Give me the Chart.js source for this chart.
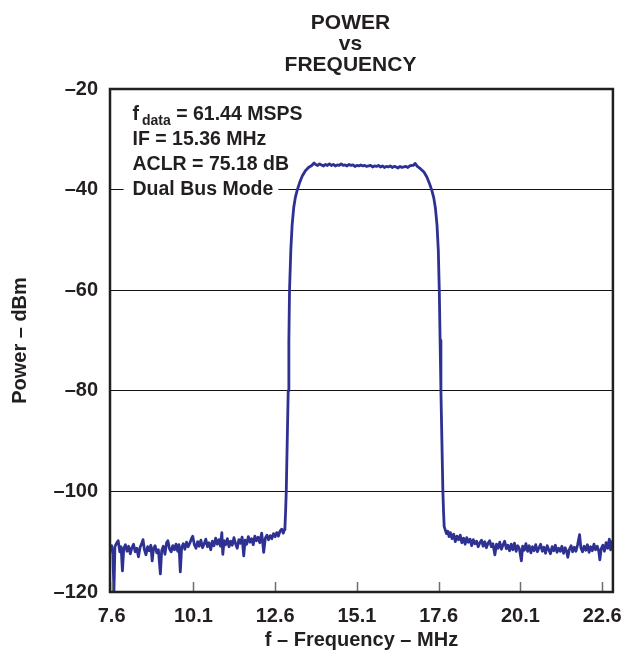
<!DOCTYPE html>
<html>
<head>
<meta charset="utf-8">
<title>Power vs Frequency</title>
<script src="https://cdn.jsdelivr.net/npm/chart.js@4/dist/chart.umd.min.js"></script>
<style>
  html, body { margin: 0; padding: 0; background: #fff; }
  #wrap { width: 634px; height: 660px; }
</style>
</head>
<body>
<div id="wrap"><canvas id="psd" width="634" height="660"></canvas></div>
<script>
// Tick values / labels
const xTickValues = [7.6, 10.1, 12.6, 15.1, 17.6, 20.1, 22.6];
const yTickValues = [-20, -40, -60, -80, -100, -120];
const titleLines = ["POWER", "vs", "FREQUENCY"];
const noteLines = ["IF = 15.36 MHz", "ACLR = 75.18 dB", "Dual Bus Mode"];

// Spectrum: [MHz, dBm]
const lowFloor = [
  [7.60,-110.8],[7.64,-112.5],[7.67,-120.0],[7.70,-111.0],[7.75,-110.3],[7.80,-109.8],[7.85,-112.0],[7.89,-111.0],
  [7.93,-115.8],[7.97,-111.4],[8.02,-110.6],[8.07,-111.9],[8.12,-110.9],[8.17,-112.4],[8.22,-111.2],[8.27,-110.5],
  [8.32,-112.0],[8.37,-111.3],[8.42,-113.0],[8.47,-111.1],[8.52,-110.4],[8.56,-109.6],[8.60,-111.5],[8.65,-112.6],
  [8.70,-111.0],[8.75,-111.8],[8.80,-110.7],[8.84,-113.8],[8.88,-111.4],[8.93,-110.8],[8.98,-112.2],[9.03,-111.6],
  [9.09,-116.4],[9.13,-111.8],[9.18,-110.9],[9.23,-112.5],[9.28,-110.2],[9.32,-109.8],[9.37,-111.4],[9.42,-112.0],
  [9.47,-110.8],[9.52,-111.6],[9.57,-110.5],[9.62,-111.9],[9.66,-110.6],[9.70,-116.0],[9.74,-111.2],[9.79,-110.4],
  [9.84,-111.5],[9.89,-110.1],[9.94,-111.0],[9.99,-110.3],[10.04,-109.4],[10.08,-108.9],[10.13,-110.6],[10.18,-111.3],
  [10.23,-110.0],[10.28,-110.9],[10.33,-109.7],[10.38,-111.2],[10.43,-110.4],[10.48,-109.5],[10.53,-111.0],[10.58,-110.2],
  [10.63,-111.6],[10.68,-109.9],[10.73,-110.8],[10.78,-109.3],[10.83,-110.5],[10.88,-109.6],[10.93,-110.9],[10.97,-108.2],
  [11.00,-112.5],[11.04,-109.8],[11.09,-110.6],[11.14,-109.4],[11.19,-111.0],[11.24,-109.9],[11.29,-110.7],[11.34,-109.2],
  [11.39,-110.4],[11.44,-111.3],[11.49,-109.6],[11.54,-110.3],[11.59,-109.1],[11.64,-112.8],[11.68,-109.7],[11.73,-110.5],
  [11.78,-109.0],[11.83,-110.1],[11.88,-109.4],[11.93,-110.6],[11.98,-108.9],[12.03,-109.8],[12.08,-109.1],[12.13,-110.2],
  [12.19,-108.3],[12.25,-112.1],[12.30,-109.3],[12.35,-108.7],[12.40,-109.6],[12.45,-108.8],[12.50,-109.4],[12.55,-108.4],
  [12.60,-109.0],[12.65,-108.2],[12.70,-108.9],[12.75,-107.9],[12.80,-107.5],[12.85,-108.3],[12.88,-107.6]
];
const risingEdge = [
  [12.90,-107.2],[12.92,-104],[12.94,-100],[12.97,-90],[13.00,-80],[13.02,-70],[13.04,-60],[13.08,-52],
  [13.12,-47],[13.17,-43.5],[13.22,-41.5],[13.28,-40.0],[13.35,-38.6],[13.43,-37.3],[13.52,-36.3],[13.62,-35.6],
  [13.72,-35.2],[13.79,-34.7]
];
const passband = [
  [13.84,-35.0],[13.90,-35.2],[13.96,-34.9],[14.02,-35.1],[14.08,-35.3],[14.14,-35.0],[14.20,-35.2],[14.26,-34.9],
  [14.32,-35.2],[14.38,-35.0],[14.44,-35.3],[14.50,-35.1],[14.56,-35.2],[14.62,-34.9],[14.68,-35.2],[14.74,-35.1],
  [14.80,-35.3],[14.86,-35.0],[14.92,-35.2],[14.98,-35.1],[15.04,-35.4],[15.10,-35.2],[15.16,-35.3],[15.22,-35.1],
  [15.28,-35.3],[15.34,-35.2],[15.40,-35.4],[15.46,-35.3],[15.52,-35.2],[15.58,-35.5],[15.64,-35.3],[15.70,-35.4],
  [15.76,-35.2],[15.82,-35.5],[15.88,-35.3],[15.94,-35.6],[16.00,-35.4],[16.06,-35.5],[16.12,-35.3],[16.18,-35.6],
  [16.24,-35.4],[16.30,-35.5],[16.36,-35.7],[16.42,-35.4],[16.48,-35.6],[16.54,-35.5],[16.60,-35.4],[16.66,-35.6],
  [16.72,-35.3],[16.78,-35.2]
];
const fallingEdge = [
  [16.83,-35.2],[16.88,-34.8],[16.95,-35.4],[17.05,-35.9],[17.15,-36.5],[17.24,-37.5],[17.32,-38.8],[17.39,-40.1],
  [17.45,-41.6],[17.50,-43.6],[17.55,-47],[17.59,-52],[17.62,-60],[17.645,-70],[17.67,-80],[17.70,-90],
  [17.73,-100],[17.75,-104],[17.77,-107.0]
];
const highFloor = [
  [17.80,-107.6],[17.84,-108.4],[17.88,-107.9],[17.92,-109.0],[17.96,-108.2],[18.01,-109.4],[18.06,-108.5],[18.11,-110.0],
  [18.16,-108.9],[18.21,-109.6],[18.26,-108.7],[18.31,-110.2],[18.36,-109.3],[18.41,-110.5],[18.46,-109.2],[18.51,-110.1],
  [18.56,-109.5],[18.61,-110.8],[18.66,-109.6],[18.71,-110.4],[18.76,-109.9],[18.81,-111.0],[18.86,-110.2],[18.91,-109.7],
  [18.96,-110.9],[19.01,-110.0],[19.06,-111.2],[19.11,-110.3],[19.16,-109.8],[19.21,-111.0],[19.26,-110.4],[19.32,-112.6],
  [19.37,-110.5],[19.42,-111.3],[19.47,-110.1],[19.52,-111.5],[19.57,-110.6],[19.62,-109.9],[19.67,-111.4],[19.72,-110.7],
  [19.77,-111.8],[19.82,-110.5],[19.87,-111.6],[19.92,-110.3],[19.97,-111.9],[20.02,-110.8],[20.07,-111.4],[20.13,-113.8],
  [20.17,-110.9],[20.22,-111.7],[20.27,-110.4],[20.32,-111.9],[20.37,-110.8],[20.42,-112.2],[20.47,-111.0],[20.52,-111.8],
  [20.57,-110.6],[20.62,-112.0],[20.67,-111.2],[20.72,-110.5],[20.77,-111.9],[20.82,-111.1],[20.87,-112.3],[20.92,-110.8],
  [20.97,-111.6],[21.02,-112.4],[21.07,-111.0],[21.12,-111.8],[21.17,-110.7],[21.22,-112.1],[21.27,-111.3],[21.32,-111.9],
  [21.37,-110.9],[21.42,-112.3],[21.47,-111.2],[21.51,-111.8],[21.55,-113.1],[21.60,-111.5],[21.65,-110.8],[21.70,-112.0],
  [21.75,-111.1],[21.80,-111.9],[21.85,-110.6],[21.91,-108.6],[21.95,-111.2],[22.00,-112.0],[22.05,-110.9],[22.10,-111.7],
  [22.15,-110.6],[22.20,-112.1],[22.25,-111.0],[22.30,-111.8],[22.35,-110.5],[22.40,-111.6],[22.45,-110.9],[22.50,-112.0],
  [22.53,-113.6],[22.57,-111.4],[22.62,-110.7],[22.67,-111.9],[22.72,-110.2],[22.77,-111.3],[22.82,-109.5],[22.86,-111.6],
  [22.90,-110.0],[22.93,-111.2]
];

const spectrum = [].concat(lowFloor, risingEdge, passband, fallingEdge, highFloor)
  .map(p => ({x: p[0], y: p[1]}));

const FONT = '"Liberation Sans", Arial, Helvetica, sans-serif';
const INK = '#231f20';
Chart.defaults.font.family = FONT;
Chart.defaults.color = INK;

// title, in-plot note, inward x ticks and the frame
const decorations = {
  id: 'decorations',
  beforeDatasetsDraw(chart) {
    const ctx = chart.ctx;
    const x0 = 132.5;
    ctx.save();
    ctx.textBaseline = 'alphabetic';
    ctx.textAlign = 'left';
    // first line: f with subscript
    const big = 'bold 19.5px ' + FONT, small = 'bold 14px ' + FONT;
    ctx.font = big;
    const fW = ctx.measureText('f').width;
    const rest = ' = 61.44 MSPS';
    const restW = ctx.measureText(rest).width;
    ctx.font = small;
    const subW = ctx.measureText('data').width;
    ctx.fillStyle = '#fff';
    ctx.fillRect(x0 - 9, 101, fW + 3 + subW + restW + 14, 28);
    ctx.fillStyle = INK;
    ctx.font = big;
    ctx.fillText('f', x0, 120);
    ctx.font = small;
    ctx.fillText('data', x0 + fW + 3, 124.5);
    ctx.font = big;
    ctx.fillText(rest, x0 + fW + 3 + subW, 120);
    noteLines.forEach((t, i) => {
      const y = 145 + i * 25;
      const w = ctx.measureText(t).width;
      ctx.fillStyle = '#fff';
      ctx.fillRect(x0 - 9, y - 17, w + 14, 24);
      ctx.fillStyle = INK;
      ctx.fillText(t, x0, y);
    });
    ctx.restore();
  },
  afterDatasetsDraw(chart) {
    const {ctx, chartArea: a} = chart;
    const xs = chart.scales.x;
    ctx.save();
    ctx.strokeStyle = '#6d6e71';
    ctx.lineWidth = 1.5;
    xTickValues.forEach(v => {
      const px = Math.round(xs.getPixelForValue(v)) + 0.5;
      ctx.beginPath();
      ctx.moveTo(px, a.bottom);
      ctx.lineTo(px, a.bottom - 10);
      ctx.stroke();
    });
    ctx.strokeStyle = INK;
    ctx.lineWidth = 2.5;
    ctx.strokeRect(a.left, a.top, a.right - a.left, a.bottom - a.top);
    ctx.restore();
  },
  afterDraw(chart) {
    const ctx = chart.ctx;
    ctx.save();
    ctx.fillStyle = INK;
    ctx.textAlign = 'center';
    ctx.textBaseline = 'alphabetic';
    ctx.font = 'bold 21px ' + FONT;
    ctx.fillText(titleLines[0], 350.5, 28.5);
    ctx.fillText(titleLines[1], 350.5, 50);
    ctx.fillText(titleLines[2], 350.5, 70.5);
    ctx.restore();
  }
};

new Chart(document.getElementById('psd'), {
  type: 'line',
  data: {
    datasets: [{
      data: spectrum,
      borderColor: '#2e3192',
      borderWidth: 2.8,
      borderJoinStyle: 'round',
      borderCapStyle: 'round',
      pointRadius: 0,
      tension: 0,
      fill: false
    }]
  },
  options: {
    responsive: false,
    animation: false,
    events: [],
    layout: { padding: { top: 89, right: 19, left: 0, bottom: 0 } },
    plugins: { legend: { display: false }, tooltip: { enabled: false }, title: { display: false } },
    scales: {
      x: {
        type: 'linear',
        min: 7.55,
        max: 22.93,
        afterFit: s => { s.height = 68; },
        afterBuildTicks: s => { s.ticks = xTickValues.map(v => ({ value: v })); },
        grid: { display: false, drawTicks: false },
        border: { display: false },
        ticks: {
          padding: 12,
          autoSkip: false,
          maxRotation: 0,
          color: INK,
          font: { size: 20, weight: 'bold' },
          callback: v => Number(v).toFixed(1)
        },
        title: {
          display: true,
          text: 'f – Frequency – MHz',
          color: INK,
          font: { size: 20, weight: 'bold' },
          padding: { top: 0, bottom: 8 }
        }
      },
      y: {
        min: -120,
        max: -20,
        afterFit: s => { s.width = 110; },
        afterBuildTicks: s => { s.ticks = yTickValues.map(v => ({ value: v })); },
        grid: { color: '#111', lineWidth: 1, drawTicks: false },
        border: { display: false },
        ticks: {
          padding: 12,
          color: INK,
          font: { size: 20, weight: 'bold' },
          callback: v => '–' + Math.abs(v)
        },
        title: {
          display: true,
          text: 'Power – dBm',
          color: INK,
          font: { size: 20, weight: 'bold' },
          padding: { top: 8, bottom: 0 }
        }
      }
    }
  },
  plugins: [decorations]
});
</script>
</body>
</html>
